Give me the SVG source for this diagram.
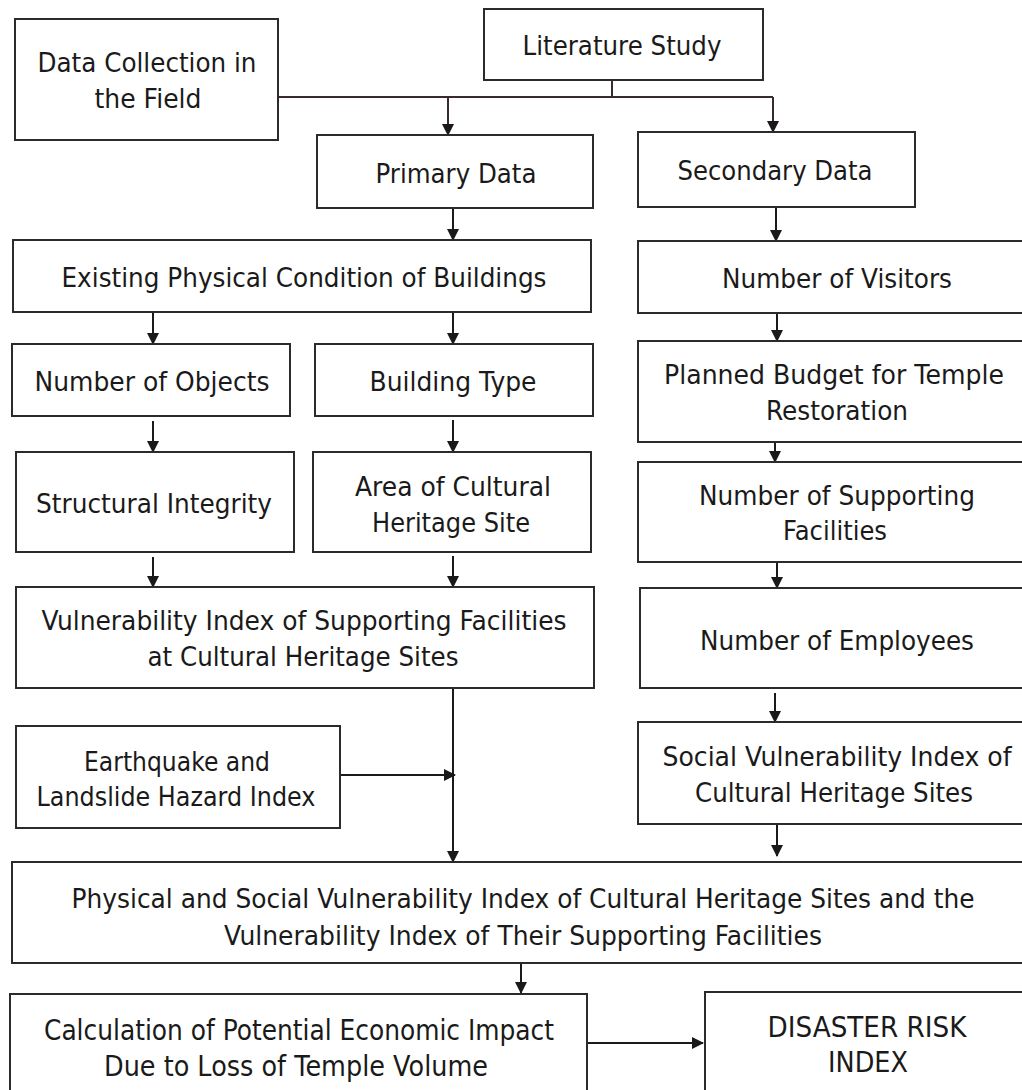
<svg xmlns="http://www.w3.org/2000/svg" width="1022" height="1090" viewBox="0 0 1022 1090">
<style>
.box{fill:#fff;stroke:#2b2b2b;stroke-width:2}
.t{font-family:"DejaVu Sans","Liberation Sans",sans-serif;font-size:26px;fill:#1a1a1a;text-anchor:middle}
.n{font-size:29px}
.c{fill:none;stroke:#1a1a1a;stroke-width:2}
.m{stroke:#3a2a2e}
</style>
<defs>
<marker id="ah" markerWidth="12" markerHeight="12" refX="11" refY="6" orient="auto" markerUnits="userSpaceOnUse">
<path d="M0,0 L12,6 L0,12 z" fill="#1a1a1a"/>
</marker>
</defs>
<rect width="1022" height="1090" fill="#fff"/>
<g id="connectors">
<path class="c m" d="M278,97 H773"/>
<path class="c m" d="M612,80 V97"/>
<path class="c m" d="M448,97 V135" marker-end="url(#ah)"/>
<path class="c m" d="M773,97 V132" marker-end="url(#ah)"/>
<path class="c" d="M453,208 V240" marker-end="url(#ah)"/>
<path class="c" d="M776,207 V241" marker-end="url(#ah)"/>
<path class="c" d="M153,312 V344" marker-end="url(#ah)"/>
<path class="c" d="M453,312 V344" marker-end="url(#ah)"/>
<path class="c" d="M777,313 V341" marker-end="url(#ah)"/>
<path class="c" d="M153,421 V452" marker-end="url(#ah)"/>
<path class="c" d="M453,420 V452" marker-end="url(#ah)"/>
<path class="c" d="M775,442 V462" marker-end="url(#ah)"/>
<path class="c" d="M153,557 V587" marker-end="url(#ah)"/>
<path class="c" d="M453,556 V587" marker-end="url(#ah)"/>
<path class="c" d="M777,562 V588" marker-end="url(#ah)"/>
<path class="c" d="M775,693 V722" marker-end="url(#ah)"/>
<path class="c" d="M453,688 V862" marker-end="url(#ah)"/>
<path class="c" d="M340,775 H455" marker-end="url(#ah)"/>
<path class="c" d="M777,824 V856" marker-end="url(#ah)"/>
<path class="c" d="M521,963 V993" marker-end="url(#ah)"/>
<path class="c" d="M588,1043 H703" marker-end="url(#ah)"/>
</g>
<g id="literature"><rect class="box" x="484" y="9" width="279" height="71"/><text class="t" x="622" y="55" textLength="199" lengthAdjust="spacingAndGlyphs">Literature Study</text></g>
<g id="field"><rect class="box" x="15" y="19" width="263" height="121"/><text class="t" x="147" y="72" textLength="219" lengthAdjust="spacingAndGlyphs">Data Collection in</text><text class="t" x="148" y="108" textLength="107" lengthAdjust="spacingAndGlyphs">the Field</text></g>
<g id="primary"><rect class="box" x="317" y="135" width="276" height="73"/><text class="t" x="456" y="183" textLength="161" lengthAdjust="spacingAndGlyphs">Primary Data</text></g>
<g id="secondary"><rect class="box" x="638" y="132" width="277" height="75"/><text class="t" x="775" y="180" textLength="195" lengthAdjust="spacingAndGlyphs">Secondary Data</text></g>
<g id="existing"><rect class="box" x="13" y="240" width="578" height="72"/><text class="t" x="304" y="287" textLength="485" lengthAdjust="spacingAndGlyphs">Existing Physical Condition of Buildings</text></g>
<g id="visitors"><rect class="box" x="638" y="241" width="385" height="72"/><text class="t" x="837" y="288" textLength="230" lengthAdjust="spacingAndGlyphs">Number of Visitors</text></g>
<g id="objects"><rect class="box" x="12" y="344" width="278" height="72"/><text class="t" x="152" y="391" textLength="235" lengthAdjust="spacingAndGlyphs">Number of Objects</text></g>
<g id="buildingtype"><rect class="box" x="315" y="344" width="278" height="72"/><text class="t" x="453" y="391" textLength="167" lengthAdjust="spacingAndGlyphs">Building Type</text></g>
<g id="budget"><rect class="box" x="638" y="341" width="385" height="101"/><text class="t" x="834" y="384" textLength="340" lengthAdjust="spacingAndGlyphs">Planned Budget for Temple</text><text class="t" x="837" y="420" textLength="142" lengthAdjust="spacingAndGlyphs">Restoration</text></g>
<g id="structural"><rect class="box" x="16" y="452" width="278" height="100"/><text class="t" x="154" y="513" textLength="236" lengthAdjust="spacingAndGlyphs">Structural Integrity</text></g>
<g id="area"><rect class="box" x="313" y="452" width="278" height="100"/><text class="t" x="453" y="496" textLength="196" lengthAdjust="spacingAndGlyphs">Area of Cultural</text><text class="t" x="451" y="532" textLength="158" lengthAdjust="spacingAndGlyphs">Heritage Site</text></g>
<g id="supporting"><rect class="box" x="638" y="462" width="385" height="100"/><text class="t" x="837" y="505" textLength="276" lengthAdjust="spacingAndGlyphs">Number of Supporting</text><text class="t" x="835" y="540" textLength="104" lengthAdjust="spacingAndGlyphs">Facilities</text></g>
<g id="vulnfac"><rect class="box" x="16" y="587" width="578" height="101"/><text class="t" x="304" y="630" textLength="525" lengthAdjust="spacingAndGlyphs">Vulnerability Index of Supporting Facilities</text><text class="t" x="303" y="666" textLength="311" lengthAdjust="spacingAndGlyphs">at Cultural Heritage Sites</text></g>
<g id="employees"><rect class="box" x="640" y="588" width="383" height="100"/><text class="t" x="837" y="650" textLength="274" lengthAdjust="spacingAndGlyphs">Number of Employees</text></g>
<g id="hazard"><rect class="box" x="16" y="726" width="324" height="102"/><text class="t" x="177" y="771" textLength="186" lengthAdjust="spacingAndGlyphs">Earthquake and</text><text class="t" x="176" y="806" textLength="279" lengthAdjust="spacingAndGlyphs">Landslide Hazard Index</text></g>
<g id="social"><rect class="box" x="638" y="722" width="385" height="102"/><text class="t" x="837" y="766" textLength="349" lengthAdjust="spacingAndGlyphs">Social Vulnerability Index of</text><text class="t" x="834" y="802" textLength="278" lengthAdjust="spacingAndGlyphs">Cultural Heritage Sites</text></g>
<g id="combined"><rect class="box" x="12" y="862" width="1011" height="101"/><text class="t" x="523" y="908" textLength="903" lengthAdjust="spacingAndGlyphs">Physical and Social Vulnerability Index of Cultural Heritage Sites and the</text><text class="t" x="523" y="945" textLength="598" lengthAdjust="spacingAndGlyphs">Vulnerability Index of Their Supporting Facilities</text></g>
<g id="economic"><rect class="box" x="10" y="994" width="577" height="97"/><text class="t n" x="299" y="1040" textLength="510" lengthAdjust="spacingAndGlyphs">Calculation of Potential Economic Impact</text><text class="t n" x="296" y="1076" textLength="384" lengthAdjust="spacingAndGlyphs">Due to Loss of Temple Volume</text></g>
<g id="risk"><rect class="box" x="705" y="992" width="318" height="99"/><text class="t n" x="867" y="1037" textLength="199" lengthAdjust="spacingAndGlyphs">DISASTER RISK</text><text class="t n" x="868" y="1072" textLength="80" lengthAdjust="spacingAndGlyphs">INDEX</text></g>
</svg>
